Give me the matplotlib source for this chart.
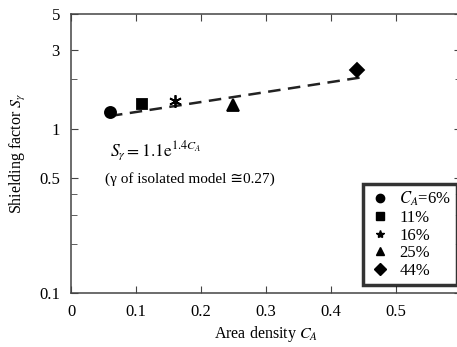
import matplotlib
matplotlib.use('Agg')
import matplotlib.pyplot as plt
from matplotlib.lines import Line2D
from matplotlib.ticker import FixedLocator, FixedFormatter
import numpy as np

plt.rcParams['font.family'] = ['Liberation Serif', 'DejaVu Sans']
plt.rcParams['mathtext.fontset'] = 'stix'

# data
area_density = [0.06, 0.11, 0.16, 0.25, 0.44]
shielding = [1.26, 1.41, 1.47, 1.40, 2.28]
labels = ['$C_A$=6%', '11%', '16%', '25%', '44%']
markers = ['o', 's', '*', '^', 'D']
fit_a, fit_b = 1.1, 1.4
fit_range = [0.06, 0.45]

fig = plt.figure(figsize=(4.57, 3.47), dpi=100)
ax = fig.add_axes([0.1554, 0.1556, 0.853, 0.804])

xf = np.linspace(fit_range[0], fit_range[1], 50)
ax.plot(xf, fit_a * np.exp(fit_b * xf), ls=(0, (5, 3)), color='#222222', lw=1.8, zorder=2)

plot_markers = ['o', 's', (6, 2, 0), '^', 'D']
sizes = [8, 7, 9, 8, 7]
for x, y, m, s in zip(area_density, shielding, plot_markers, sizes):
    ax.plot(x, y, marker=m, ms=s, color='black', mew=1.3, ls='none', zorder=3)

ax.set_yscale('log')
ax.set_xlim(0, 0.6)
ax.set_ylim(0.1, 5)
ax.yaxis.set_major_locator(FixedLocator([0.1, 0.5, 1, 3, 5]))
ax.yaxis.set_major_formatter(FixedFormatter(['0.1', '0.5', '1', '3', '5']))
ax.yaxis.set_minor_locator(FixedLocator([0.2, 0.3, 0.4, 2]))
ax.set_xticks([0, 0.1, 0.2, 0.3, 0.4, 0.5])
ax.set_xticklabels(['0', '0.1', '0.2', '0.3', '0.4', '0.5'])
ax.tick_params(which='both', direction='in', top=True, right=True, labelsize=12,
               color='#444444', length=5, pad=8)
ax.tick_params(which='minor', length=4)
for sp in ax.spines.values():
    sp.set_color('#444444')
    sp.set_linewidth(1.1)

ax.set_xlabel('Area density $C_A$', fontsize=11.5, labelpad=3)
ax.set_ylabel(r'Shielding factor $S_\gamma$', fontsize=11.5, labelpad=8)

ax.text(0.06, 0.73, r'$S_\gamma = 1.1\mathrm{e}^{1.4C_A}$', fontsize=12.5, va='center')
ax.text(0.052, 0.495, '(γ of isolated model ≅0.27)', fontsize=11, va='center')

handles = [Line2D([], [], marker=m, color='black', ls='none', ms=6) for m in markers]
leg = ax.legend(handles, labels, loc='lower right', bbox_to_anchor=(1.012, 0.0),
                fontsize=12, frameon=True, fancybox=False, handletextpad=0.5,
                labelspacing=0.1, borderpad=0.35, handlelength=1.3)
leg.get_frame().set_edgecolor('black')
leg.get_frame().set_linewidth(2.5)

fig.savefig('out.png', dpi=100)
